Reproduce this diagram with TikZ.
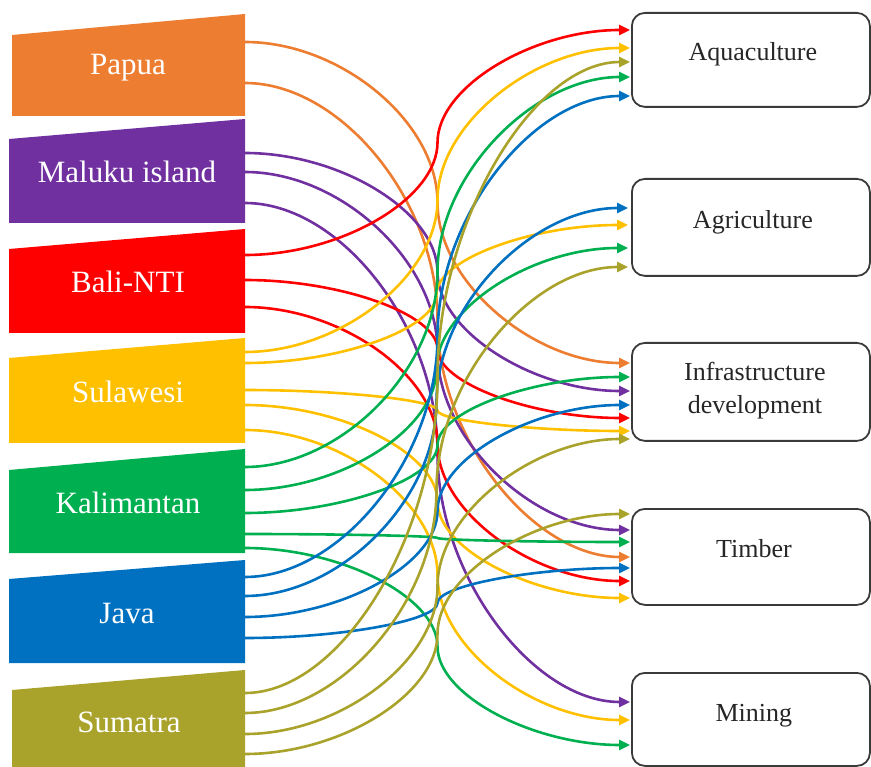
\documentclass[tikz,border=0pt]{standalone}
\usepackage{fontspec}
\setmainfont{Liberation Serif}
\usetikzlibrary{arrows.meta,calc}
\definecolor{cpapua}{HTML}{ED7D31}
\definecolor{cmaluku}{HTML}{7030A0}
\definecolor{cbali}{HTML}{FF0000}
\definecolor{csula}{HTML}{FFC000}
\definecolor{ckali}{HTML}{00B050}
\definecolor{cjava}{HTML}{0070C0}
\definecolor{csuma}{HTML}{A9A22B}
\definecolor{cbox}{HTML}{3A3A3A}
\newcommand\linkc[3]{%
 \draw[conn,#1] let \p1=(#2), \p2=(#3) in (\p1)
  .. controls ({0.75*\x1+0.25*\x2},\y1) and ({0.5*\x1+0.5*\x2},{0.75*\y1+0.25*\y2}) .. ({0.5*\x1+0.5*\x2},{0.5*\y1+0.5*\y2})
  .. controls ({0.5*\x1+0.5*\x2},{0.25*\y1+0.75*\y2}) and ({0.25*\x1+0.75*\x2},\y2) .. (\p2);}
\tikzset{
 rlabel/.style={text=white, font=\fontsize{31}{37}\selectfont, anchor=base, inner sep=0pt},
 sector/.style={draw=cbox, line width=1.8pt, rounded corners=13pt, fill=white, anchor=north west, minimum width=238pt, inner sep=0pt},
 slabel/.style={text=black!85, font=\fontsize{26}{33}\selectfont, align=center, inner sep=0pt},
 conn/.style={line width=2.6pt, -{Triangle[length=11pt,width=10pt]}},
}
\begin{document}
\begin{tikzpicture}[x=1pt,y=-1pt]
\useasboundingbox (0,0) rectangle (871,767);
% regions
\fill[cpapua]  (12,35) -- (245,14) -- (245,116) -- (12,116) -- cycle;
\fill[cmaluku] (9,139) -- (245,119) -- (245,223) -- (9,223) -- cycle;
\fill[cbali]   (9,249) -- (245,229) -- (245,333) -- (9,333) -- cycle;
\fill[csula]   (9,358) -- (245,338) -- (245,443) -- (9,443) -- cycle;
\fill[ckali]   (9,470) -- (245,449) -- (245,553) -- (9,553) -- cycle;
\fill[cjava]   (9,579) -- (245,560) -- (245,663) -- (9,663) -- cycle;
\fill[csuma]   (12,690) -- (245,670) -- (245,767) -- (12,767) -- cycle;
\node[rlabel] (papua) at (128,75) {Papua};
\node[rlabel] (maluku) at (127,183) {Maluku island};
\node[rlabel] (bali) at (128,293) {Bali-NTI};
\node[rlabel] (sula) at (128,403) {Sulawesi};
\node[rlabel] (kali) at (128,513) {Kalimantan};
\node[rlabel] (java) at (127,623) {Java};
\node[rlabel] (suma) at (129,732) {Sumatra};
% sectors
\node[sector, minimum height=94pt] (aqua) at (631,12) {};
\node[sector, minimum height=97pt] (agri) at (631,178) {};
\node[sector, minimum height=98pt] (infra) at (631,342) {};
\node[sector, minimum height=96pt] (timber) at (631,508) {};
\node[sector, minimum height=93pt] (mining) at (631,672) {};
\node[slabel, anchor=base] (laqua) at ($(aqua.center)+(2,1)$) {Aquaculture};
\node[slabel, anchor=base] (lagri) at ($(agri.center)+(2,1)$) {Agriculture};
\node[slabel, anchor=center] (linfra) at ($(infra.center)+(4,-1)$) {Infrastructure\\development};
\node[slabel, anchor=base] (ltimber) at ($(timber.center)+(3,1)$) {Timber};
\node[slabel, anchor=base] (lmining) at ($(mining.center)+(3,2)$) {Mining};
% start points
\coordinate (pa1) at (245,42);  \coordinate (pa2) at (245,83);
\coordinate (ma1) at (245,153); \coordinate (ma2) at (245,172); \coordinate (ma3) at (245,203);
\coordinate (ba1) at (245,255); \coordinate (ba2) at (245,280); \coordinate (ba3) at (245,307);
\coordinate (su1) at (245,352); \coordinate (su2) at (245,363); \coordinate (su3) at (245,390); \coordinate (su4) at (245,405); \coordinate (su5) at (245,430);
\coordinate (ka1) at (245,467); \coordinate (ka2) at (245,490); \coordinate (ka3) at (245,513); \coordinate (ka4) at (245,534); \coordinate (ka5) at (245,548);
\coordinate (ja1) at (245,577); \coordinate (ja2) at (245,596); \coordinate (ja3) at (245,617); \coordinate (ja4) at (245,638);
\coordinate (sm1) at (245,693); \coordinate (sm2) at (245,713); \coordinate (sm3) at (245,734); \coordinate (sm4) at (245,754);
% end points
\coordinate (aq1) at (630,30); \coordinate (aq2) at (630,48); \coordinate (aq3) at (630,62); \coordinate (aq4) at (630,77); \coordinate (aq5) at (630,96);
\coordinate (ag1) at (628,208); \coordinate (ag2) at (628,225); \coordinate (ag3) at (628,248); \coordinate (ag4) at (628,267);
\coordinate (in1) at (630,363); \coordinate (in2) at (630,377); \coordinate (in3) at (630,391); \coordinate (in4) at (630,405); \coordinate (in5) at (630,418); \coordinate (in6) at (630,431); \coordinate (in7) at (630,439);
\coordinate (ti1) at (630,514); \coordinate (ti2) at (630,530); \coordinate (ti3) at (630,542); \coordinate (ti4) at (630,557); \coordinate (ti5) at (630,568); \coordinate (ti6) at (630,581); \coordinate (ti7) at (630,598);
\coordinate (mi1) at (630,702); \coordinate (mi2) at (630,720); \coordinate (mi3) at (630,745);
% connectors
\linkc{cpapua}{pa1}{in1}
\linkc{cpapua}{pa2}{ti4}
\linkc{cmaluku}{ma1}{in3}
\linkc{cmaluku}{ma2}{ti2}
\linkc{cmaluku}{ma3}{mi1}
\linkc{cbali}{ba1}{aq1}
\linkc{cbali}{ba2}{in5}
\linkc{cbali}{ba3}{ti6}
\linkc{csula}{su1}{aq2}
\linkc{csula}{su2}{ag2}
\linkc{csula}{su3}{in6}
\linkc{csula}{su4}{ti7}
\linkc{csula}{su5}{mi2}
\linkc{ckali}{ka1}{aq4}
\linkc{ckali}{ka2}{ag3}
\linkc{ckali}{ka3}{in2}
\linkc{ckali}{ka4}{ti3}
\linkc{ckali}{ka5}{mi3}
\linkc{cjava}{ja1}{aq5}
\linkc{cjava}{ja2}{ag1}
\linkc{cjava}{ja3}{in4}
\linkc{cjava}{ja4}{ti5}
\linkc{csuma}{sm1}{aq3}
\linkc{csuma}{sm2}{ag4}
\linkc{csuma}{sm3}{in7}
\linkc{csuma}{sm4}{ti1}
\end{tikzpicture}
\end{document}
